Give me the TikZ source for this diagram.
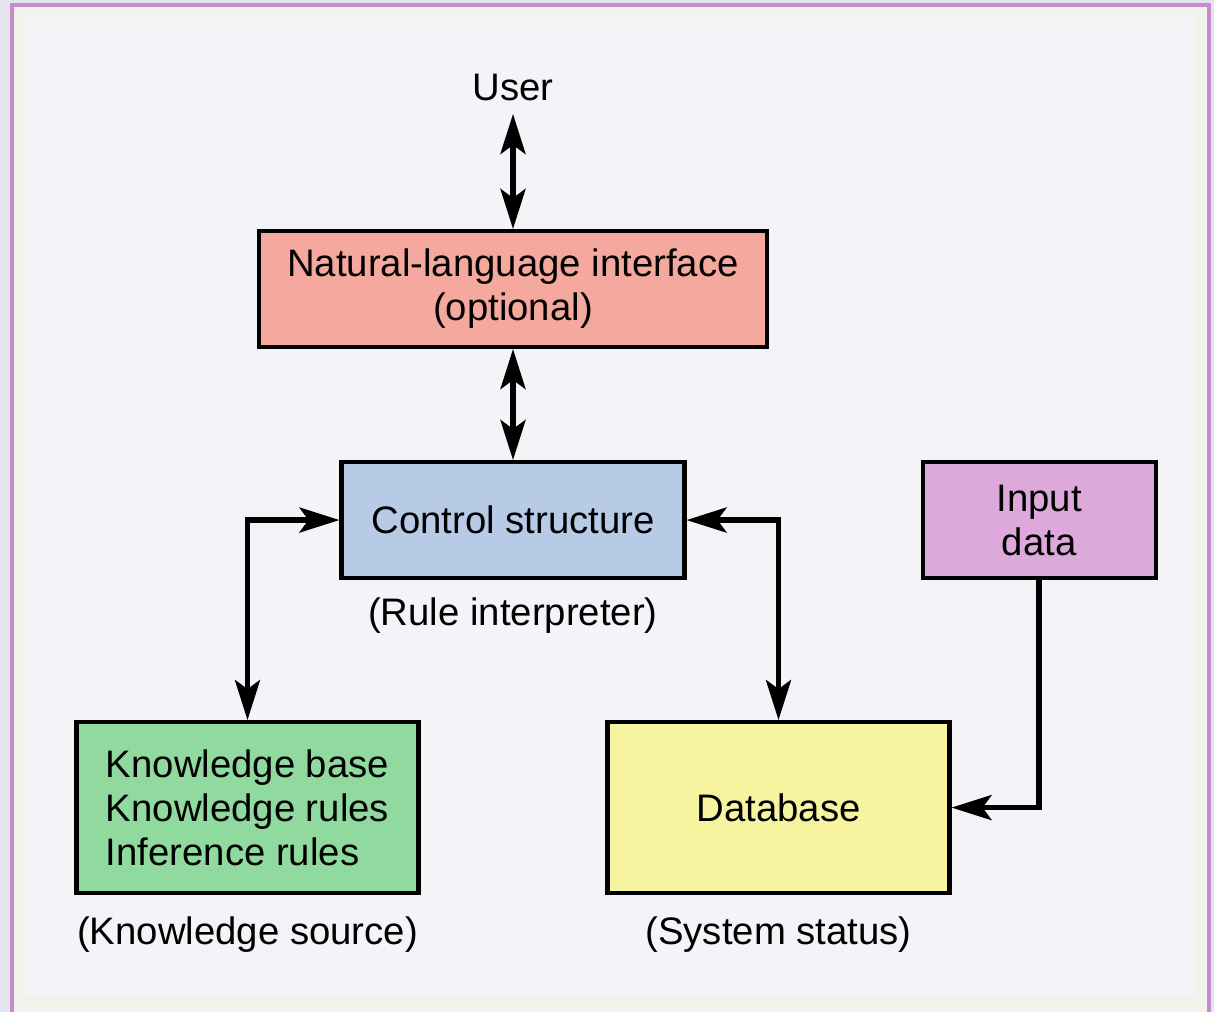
\documentclass[tikz,border=0pt]{standalone}
\usepackage{fontspec}
\setmainfont{Liberation Sans}
\usetikzlibrary{arrows.meta, positioning}

\definecolor{outbg}{HTML}{E4E6EE}
\definecolor{framecol}{HTML}{C88AD0}
\definecolor{bandcol}{HTML}{F0F3EA}
\definecolor{inbg}{HTML}{F4F3F8}
\definecolor{nlred}{HTML}{F5A89E}
\definecolor{ctrlblue}{HTML}{B7CBE6}
\definecolor{inpurple}{HTML}{DDA8DA}
\definecolor{kbgreen}{HTML}{90DAA0}
\definecolor{dbyellow}{HTML}{F7F4A0}

\begin{document}
\begin{tikzpicture}[node distance=2.22cm and 4.68cm,
  box/.style={rectangle, draw, line width=2.3pt, align=center, minimum height=2.32cm, inner sep=0pt, font=\fontsize{21.8}{25}\selectfont},
  lbl/.style={font=\fontsize{21.8}{25}\selectfont},
  link/.style={line width=3pt},
  >={Stealth[length=8mm, width=5mm, inset=1.8mm]}]
\useasboundingbox (0,0) rectangle (24.28,-20.24);
\fill[outbg] (0,0) rectangle (24.28,-20.24);
\draw[framecol, line width=2pt, fill=bandcol] (0.24,-0.1) rectangle (24.18,-20.6);
\fill[inbg] (0.5,-0.35) rectangle (23.9,-19.9);
\node[box, fill=nlred, minimum width=10.16cm] (nl) at (10.26,-5.78) {Natural-language interface\\(optional)};
\node[lbl, inner sep=7pt, above=2.3cm of nl] (user) {User};
\node[box, fill=ctrlblue, minimum width=6.86cm, below=of nl] (ctrl) {Control structure};
\node[box, fill=inpurple, minimum width=4.66cm, right=of ctrl] (inp) {Input\\data};
\node[lbl, below=0.23cm of ctrl] (rule) {(Rule interpreter)};
\node[box, fill=kbgreen, minimum width=6.84cm, minimum height=3.42cm, align=left, below=2.8cm of ctrl, xshift=-5.31cm] (kb) {Knowledge base\\Knowledge rules\\Inference rules};
\node[box, fill=dbyellow, minimum width=6.84cm, minimum height=3.42cm, below=2.8cm of ctrl, xshift=5.31cm] (db) {Database};
\node[lbl, below=0.31cm of kb] (kbsrc) {(Knowledge source)};
\node[lbl, below=0.31cm of db] (status) {(System status)};
\draw[link, <->] (user) -- (nl);
\draw[link, <->] (nl) -- (ctrl);
\draw[link, <->] (ctrl.west) -| (kb.north);
\draw[link, <->] (ctrl.east) -| (db.north);
\draw[link, ->] (inp.south) |- (db.east);
\end{tikzpicture}
\end{document}
